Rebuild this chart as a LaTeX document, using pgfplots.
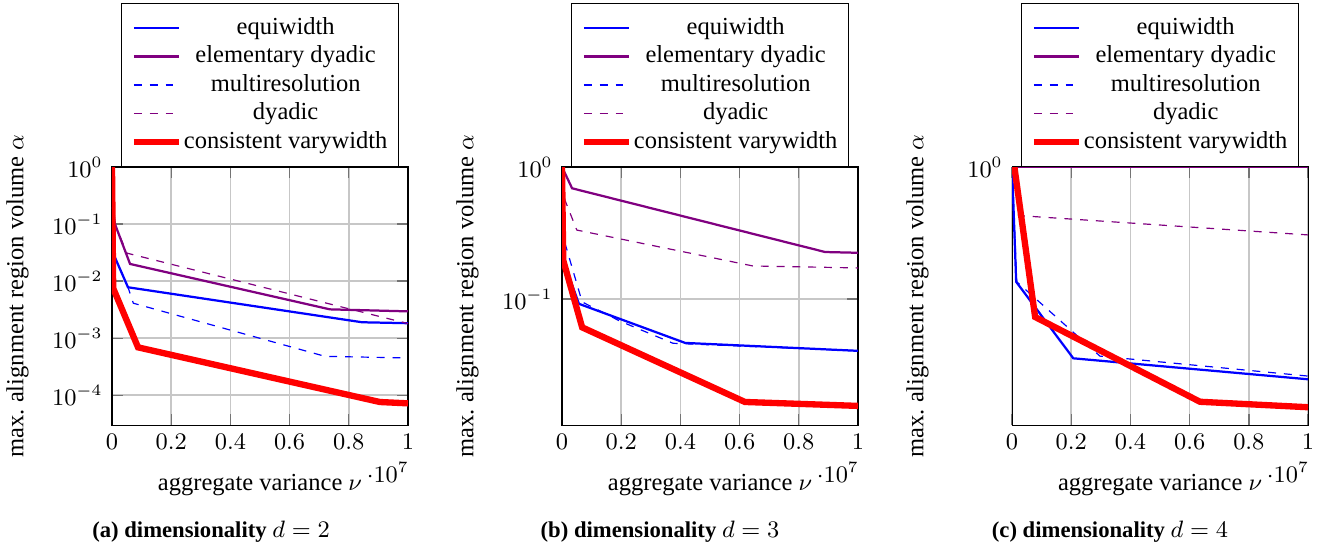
\documentclass[border=0pt]{standalone}
\usepackage{fontspec}
\setmainfont{Liberation Serif}
\usepackage{pgfplots}
\pgfplotsset{compat=1.18}

\pgfplotsset{
  /pgfplots/varplot/.style={
    scale only axis, width=112.3pt, height=97.89pt,
    xmin=0, xmax=1e7, ymax=1,
    xtick={0,2e6,4e6,6e6,8e6,1e7},
    scaled x ticks=base 10:-7,
    yminorticks=false,
    xmajorgrids, ymajorgrids, major grid style={black!22, line width=0.6pt},
    tick style={black!55, line width=0.5pt},
    tick label style={font=\fontsize{8.6}{10}\selectfont},
    xlabel style={font=\fontsize{9.3}{11}\selectfont, at={(axis description cs:0.5,-0.233)}, anchor=center},
    ylabel style={font=\fontsize{9.3}{11}\selectfont, at={(axis description cs:-0.319,0.5)}, anchor=center},
    xlabel={aggregate variance $\nu$},
    ylabel={max.\ alignment region volume $\alpha$},
    every x tick scale label/.style={at={(axis description cs:0.932,-0.182)}, anchor=center,
      font=\fontsize{8.6}{10}\selectfont},
    legend cell align=center,
    legend style={at={(0.5,1)}, anchor=south, font=\fontsize{9.3}{11}\selectfont,
      inner xsep=3.5pt, inner ysep=3.9pt, row sep=0pt,
      nodes={inner sep=0.7pt, text height=0.7em, text depth=0.24em}},
  },
}

\begin{document}
\begin{tikzpicture}
\path[use as bounding box] (0,0) rectangle (506.1pt,-209.4pt);

% (a) d = 2
\begin{axis}[ymode=log, varplot, at={(42.49pt,-161.25pt)}, anchor=south west, ymin=3e-5,
  ytick={1,1e-1,1e-2,1e-3,1e-4}]
\addplot[blue, line width=0.85pt] coordinates {(0.003e7,0.05) (0.01e7,0.026) (0.054e7,0.0078) (0.845e7,1.9e-3) (1e7,1.83e-3)};
\addlegendentry{equiwidth}
\addplot[violet, line width=0.85pt] coordinates {(0.003e7,0.2) (0.01e7,0.1) (0.061e7,0.02) (0.736e7,3.2e-3) (1e7,2.95e-3)};
\addlegendentry{elementary dyadic}
\addplot[blue, dashed, line width=0.45pt] coordinates {(0.003e7,0.05) (0.01e7,0.026) (0.054e7,0.0078) (0.072e7,4.1e-3) (0.72e7,4.8e-4) (1e7,4.5e-4)};
\addlegendentry{multiresolution}
\addplot[violet, dashed, line width=0.45pt] coordinates {(0.003e7,0.2) (0.01e7,0.1) (0.05e7,0.031) (1e7,1.8e-3)};
\addlegendentry{dyadic}
\addplot[red, line width=2.4pt] coordinates {(0,1) (0.004e7,0.0075) (0.088e7,6.9e-4) (0.905e7,7.6e-5) (1e7,7.2e-5)};
\addlegendentry{consistent varywidth}
\end{axis}

% (b) d = 3
\begin{axis}[ymode=log, varplot, at={(213.22pt,-161.25pt)}, anchor=south west, ymin=0.0111,
  ytick={1,1e-1}]
\addplot[blue, line width=0.85pt] coordinates {(0,0.25) (0.003e7,0.2) (0.057e7,0.092) (0.416e7,0.0465) (1e7,0.0405)};
\addlegendentry{equiwidth}
\addplot[violet, line width=0.85pt] coordinates {(0,1) (0.034e7,0.69) (0.889e7,0.227) (1e7,0.224)};
\addlegendentry{elementary dyadic}
\addplot[blue, dashed, line width=0.45pt] coordinates {(0.003e7,0.35) (0.01e7,0.265) (0.068e7,0.095) (0.196e7,0.068) (0.375e7,0.0462) (1e7,0.0405)};
\addlegendentry{multiresolution}
\addplot[violet, dashed, line width=0.45pt] coordinates {(0,1) (0.01e7,0.56) (0.05e7,0.333) (0.645e7,0.178) (1e7,0.172)};
\addlegendentry{dyadic}
\addplot[red, line width=2.4pt] coordinates {(0,1) (0.004e7,0.197) (0.068e7,0.061) (0.618e7,0.0166) (1e7,0.0155)};
\addlegendentry{consistent varywidth}
\end{axis}

% (c) d = 4
\begin{axis}[ymode=log, varplot, at={(383.95pt,-161.25pt)}, anchor=south west, ymin=0.15,
  ytick={1}]
\addplot[blue, line width=0.85pt] coordinates {(0,1) (0.014e7,0.43) (0.207e7,0.245) (1e7,0.21)};
\addlegendentry{equiwidth}
\addplot[violet, line width=0.85pt] coordinates {(0,1) (1e7,1)};
\addlegendentry{elementary dyadic}
\addplot[blue, dashed, line width=0.45pt] coordinates {(0,1) (0.016e7,0.43) (0.297e7,0.249) (1e7,0.215)};
\addlegendentry{multiresolution}
\addplot[violet, dashed, line width=0.45pt] coordinates {(0,1) (0.015e7,0.85) (0.022e7,0.70) (1e7,0.607)};
\addlegendentry{dyadic}
\addplot[red, line width=2.4pt] coordinates {(0.008e7,1) (0.078e7,0.332) (0.635e7,0.178) (1e7,0.171)};
\addlegendentry{consistent varywidth}
\end{axis}

\node[font=\fontsize{8.6}{10}\selectfont\bfseries] at (80.05pt,-201.84pt) {(a) dimensionality $d=2$};
\node[font=\fontsize{8.6}{10}\selectfont\bfseries] at (250.4pt,-201.84pt) {(b) dimensionality $d=3$};
\node[font=\fontsize{8.6}{10}\selectfont\bfseries] at (421.1pt,-201.84pt) {(c) dimensionality $d=4$};
\end{tikzpicture}
\end{document}
